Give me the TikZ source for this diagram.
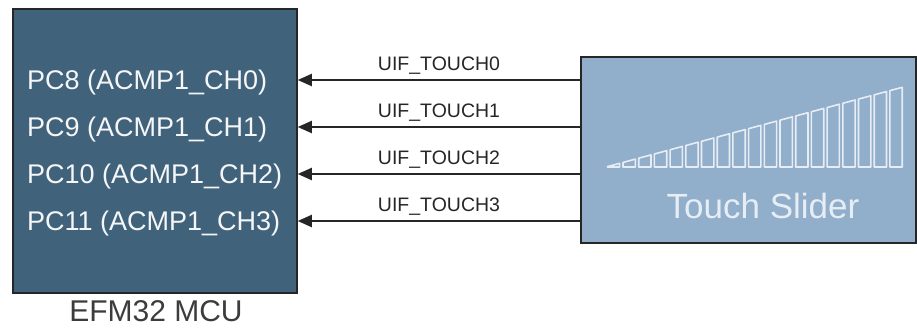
\documentclass[tikz,border=0pt]{standalone}
\usepackage{fontspec}
\setmainfont{Liberation Sans}
\usetikzlibrary{arrows.meta}
\definecolor{mcublue}{HTML}{41627B}
\definecolor{sliderblue}{HTML}{91AECB}
\definecolor{boxline}{HTML}{262626}
\definecolor{padwhite}{HTML}{E6EDF4}
\tikzset{mcubox/.style = {draw=boxline, fill=mcublue, line width=1.5pt, minimum width=284pt, minimum height=284pt}}
\tikzset{sliderbox/.style = {draw=boxline, fill=sliderblue, line width=1.5pt, minimum width=335pt, minimum height=186pt}}
\tikzset{pinlabel/.style = {text=white!94!mcublue, font=\fontsize{27}{32}\selectfont, inner sep=0, text height=19.2pt, text depth=0pt, anchor=west}}
\tikzset{signame/.style = {text=boxline, font=\fontsize{19.5}{23}\selectfont, inner sep=0, text height=14pt, text depth=0pt, above=9pt}}
\tikzset{sigedge/.style = {-{Triangle[length=14pt,width=12pt]}, line width=2pt, draw=boxline}}
\tikzset{padbar/.style = {draw=padwhite, line width=1.6pt, line join=round}}

\begin{document}
\begin{tikzpicture}[x=1pt, y=-1pt]
          \useasboundingbox (0,0) rectangle (917,327);
          \node[mcubox] (mcu) at (155,151) {};
          \node[sliderbox] (slider) at (748.5,150) {};

          \node[pinlabel] (pin0) at (27,80) {PC8 (ACMP1\_CH0)};
          \node[pinlabel] (pin1) at (27,127) {PC9 (ACMP1\_CH1)};
          \node[pinlabel] (pin2) at (27,174) {PC10 (ACMP1\_CH2)};
          \node[pinlabel] (pin3) at (27,221) {PC11 (ACMP1\_CH3)};
          \node[anchor=base, inner sep=0, text=boxline!90!white, font=\fontsize{30}{34}\selectfont] (mcuname) at (156,321.5) {EFM32 MCU};
          \node[anchor=base, inner sep=0, text=padwhite, font=\fontsize{35}{40}\selectfont] (slidername) at (763,218) {Touch Slider};

          \foreach \i in {0,...,18} {
            \pgfmathsetmacro\xl{607.3+\i*15.7}
            \pgfmathsetmacro\xr{\xl+12.3}
            \pgfmathsetmacro\yl{167-(\xl-606)*0.269}
            \pgfmathsetmacro\yr{167-(\xr-606)*0.269}
            \draw[padbar] (\xl,167) -- (\xl,\yl) -- (\xr,\yr) -- (\xr,167) -- cycle;
          }

          \draw[sigedge] (slider.west |- pin0) -- node[signame] {UIF\_TOUCH0} (mcu.east |- pin0);
          \draw[sigedge] (slider.west |- pin1) -- node[signame] {UIF\_TOUCH1} (mcu.east |- pin1);
          \draw[sigedge] (slider.west |- pin2) -- node[signame] {UIF\_TOUCH2} (mcu.east |- pin2);
          \draw[sigedge] (slider.west |- pin3) -- node[signame] {UIF\_TOUCH3} (mcu.east |- pin3);
        \end{tikzpicture}
\end{document}
